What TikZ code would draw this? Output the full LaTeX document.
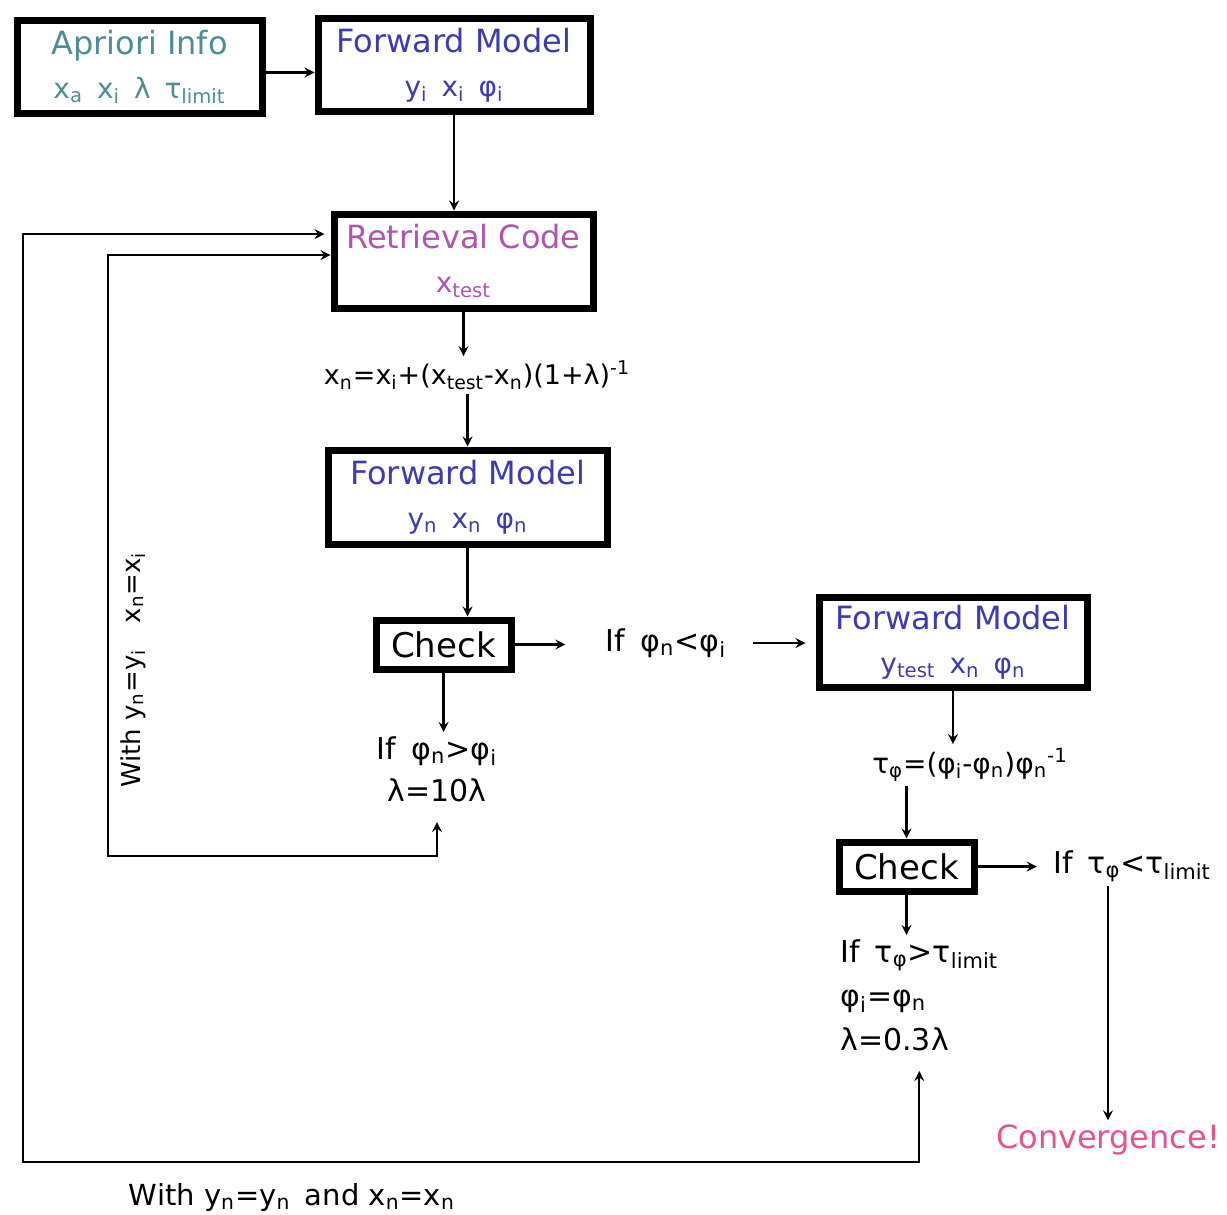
\documentclass[tikz,border=0pt]{standalone}
\usepackage{fontspec}
\setmainfont{DejaVu Sans}
\usepackage{xcolor}
\usepackage{tikz}

\definecolor{aprioricol}{RGB}{80,140,150}
\definecolor{modelcol}{RGB}{60,60,175}
\definecolor{codecol}{RGB}{175,85,175}
\definecolor{convcol}{RGB}{232,80,145}

\newcommand{\subs}[1]{\textsubscript{#1}}
\newcommand{\sups}[1]{\textsuperscript{#1}}
\newcommand{\bigfont}{\fontsize{16}{19}\selectfont}
\newcommand{\smallfont}{\fontsize{14}{16}\selectfont}
\newcommand{\lblfont}{\fontsize{15}{18}\selectfont}

\begin{document}
\begin{tikzpicture}[
    x=0.5pt, y=-0.5pt,
    box/.style={draw, line width=3.5pt, align=center, inner sep=0pt, font=\bigfont},
    checkbox/.style={draw, line width=3.5pt, inner sep=0pt, minimum width=67.5pt, minimum height=24.5pt, font=\fontsize{17}{20}\selectfont},
    lbl/.style={inner sep=2pt, align=center, font=\lblfont},
    arr/.style={->, very thick, >=stealth}
]
    \useasboundingbox (0,0) rectangle (1227,1215);

    \node[box, text=aprioricol, minimum width=122.5pt, minimum height=46.5pt] (apriori) at (139.5,66.5)
        {Apriori Info\\[3pt]{\smallfont x\subs{a}\enspace x\subs{i}\enspace λ\enspace τ\subs{limit}}};
    \node[box, text=modelcol, minimum width=136pt, minimum height=46.5pt] (fmi) at (454,65)
        {Forward Model\\[3pt]{\smallfont y\subs{i}\enspace x\subs{i}\enspace φ\subs{i}}};
    \node[box, text=codecol, minimum width=129.5pt, minimum height=47pt] (retrieval) at (463.5,261)
        {Retrieval Code\\[3pt]{\smallfont x\subs{test}}};
    \node[lbl, font=\fontsize{13.5}{16}\selectfont] (xnew) at (477,375)
        {x\subs{n}=x\subs{i}+(x\subs{test}-x\subs{n})(1+λ)\sups{-1}};
    \node[box, text=modelcol, minimum width=139.5pt, minimum height=47pt] (fmn) at (467.5,497)
        {Forward Model\\[3pt]{\smallfont y\subs{n}\enspace x\subs{n}\enspace φ\subs{n}}};
    \node[checkbox] (checkphi) at (443.5,644.5) {Check};
    \node[lbl] (philess) at (666,643) {If\enspace φ\subs{n}<φ\subs{i}};
    \node[lbl] (phimore) at (437,769) {If\enspace φ\subs{n}>φ\subs{i}\\[3pt]λ=10λ};
    \node[box, text=modelcol, minimum width=134pt, minimum height=45pt] (fmtest) at (953,642)
        {Forward Model\\[3pt]{\smallfont y\subs{test}\enspace x\subs{n}\enspace φ\subs{n}}};
    \node[lbl, font=\fontsize{14}{17}\selectfont] (tau) at (970,765)
        {τ\subs{φ}=(φ\subs{i}-φ\subs{n})φ\subs{n}\sups{-1}};
    \node[checkbox] (checktau) at (906.5,866.5) {Check};
    \node[lbl] (tauless) at (1132,866) {If\enspace τ\subs{φ}<τ\subs{limit}};
    \node[lbl, align=left, anchor=west] (taumore) at (836,995)
        {If\enspace τ\subs{φ}>τ\subs{limit}\\[4pt]φ\subs{i}=φ\subs{n}\\[4pt]λ=0.3λ};
    \node[lbl, text=convcol, font=\fontsize{16}{19}\selectfont] (converge) at (1108,1140) {Convergence!};
    \node[lbl, rotate=90, font=\fontsize{13}{16}\selectfont] (withi) at (133,670)
        {With y\subs{n}=y\subs{i}\quad x\subs{n}=x\subs{i}};
    \node[lbl, font=\fontsize{14.5}{17}\selectfont] (withn) at (292,1197)
        {With y\subs{n}=y\subs{n}\enspace and x\subs{n}=x\subs{n}};

    \coordinate (loopa) at (108,856);
    \coordinate (loopb) at (23,1162);

    \draw[arr] ([yshift=-3pt]apriori.east) -- ([yshift=-3pt]apriori.east -| fmi.west);
    \draw[arr] (fmi.south) -- (fmi.south |- retrieval.north);
    \draw[arr] (retrieval.south) -- (retrieval.south |- xnew.north);
    \draw[arr] (fmn.north |- xnew.south) -- (fmn.north);
    \draw[arr] (fmn.south) -- (fmn.south |- checkphi.north);
    \draw[arr, shorten >=18pt] (checkphi.east) -- (checkphi.east -| philess.west);
    \draw[arr, shorten <=11pt, shorten >=5pt] (philess.east) -- (philess.east -| fmtest.west);
    \draw[arr] (checkphi.south) -- (checkphi.south |- phimore.north);
    \draw[arr] (fmtest.south) -- (fmtest.south |- tau.north);
    \draw[arr] (checktau.north |- tau.south) -- (checktau.north);
    \draw[arr, shorten >=6pt] (checktau.east) -- (checktau.east -| tauless.west);
    \draw[arr] (checktau.south) -- (checktau.south |- taumore.north);
    \draw[arr] (converge.north |- tauless.south) -- (converge.north);
    \draw[arr, <->, shorten <=8pt] (phimore.south) -- (phimore.south |- loopa) -- (loopa) |- ([yshift=3pt]retrieval.west);
    \draw[arr, <->, shorten <=8pt, shorten >=3pt] (taumore.south) -- (taumore.south |- loopb) -- (loopb) |- ([yshift=13.5pt]retrieval.west);
\end{tikzpicture}
\end{document}
